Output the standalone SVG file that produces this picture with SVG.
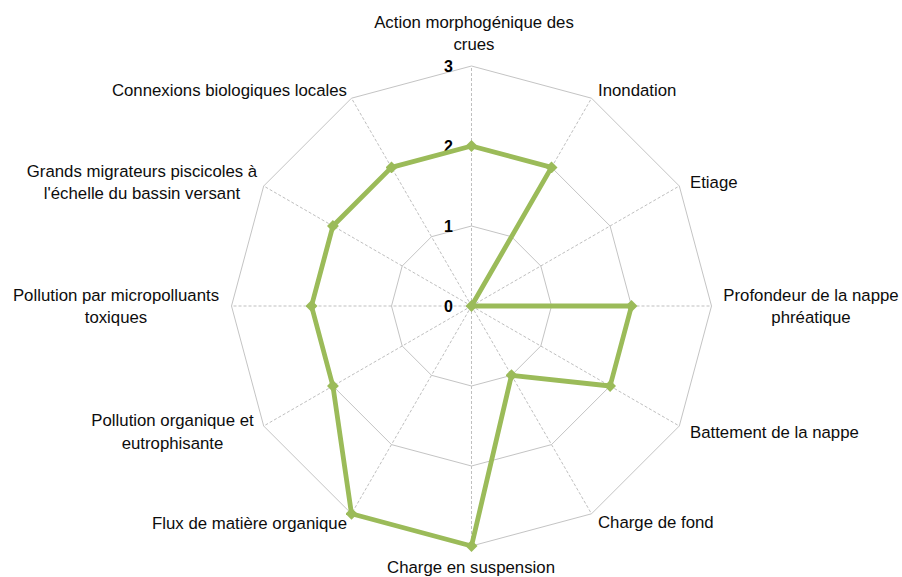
<svg xmlns="http://www.w3.org/2000/svg" width="902" height="577" viewBox="0 0 902 577">
<defs>
<style>
.ring{fill:none;stroke:#c4c4c4;stroke-width:1}
.spoke{stroke:#bfbfbf;stroke-width:1;stroke-dasharray:3 2}
.lbl{font-family:"Liberation Sans",Arial,sans-serif;font-size:16.8px;fill:#0d0d0d}
.num{font-family:"Liberation Sans",Arial,sans-serif;font-size:16px;font-weight:bold;fill:#000;text-anchor:end}
.mid{text-anchor:middle}
.end{text-anchor:end}
.series{fill:none;stroke:#9bbb59;stroke-width:4.8;stroke-linejoin:round}
</style>
<marker id="dia" viewBox="-6 -6 12 12" markerWidth="12" markerHeight="12" markerUnits="userSpaceOnUse" refX="0" refY="0" orient="0">
<path d="M0,-6 L6,0 L0,6 L-6,0 Z" fill="#9bbb59"/>
</marker>
</defs>
<rect width="902" height="577" fill="#fff"/>
<g id="connectors">
<g id="spokes">
<line class="spoke" x1="471.5" y1="306" x2="471.5" y2="66"/>
<line class="spoke" x1="471.5" y1="306" x2="591.5" y2="98.2"/>
<line class="spoke" x1="471.5" y1="306" x2="679.3" y2="186"/>
<line class="spoke" x1="471.5" y1="306" x2="711.5" y2="306"/>
<line class="spoke" x1="471.5" y1="306" x2="679.3" y2="426"/>
<line class="spoke" x1="471.5" y1="306" x2="591.5" y2="513.8"/>
<line class="spoke" x1="471.5" y1="306" x2="471.5" y2="546"/>
<line class="spoke" x1="471.5" y1="306" x2="351.5" y2="513.8"/>
<line class="spoke" x1="471.5" y1="306" x2="263.7" y2="426"/>
<line class="spoke" x1="471.5" y1="306" x2="231.5" y2="306"/>
<line class="spoke" x1="471.5" y1="306" x2="263.7" y2="186"/>
<line class="spoke" x1="471.5" y1="306" x2="351.5" y2="98.2"/>
</g>
<g id="rings">
<polygon class="ring" points="471.5,226 511.5,236.7 540.8,266 551.5,306 540.8,346 511.5,375.3 471.5,386 431.5,375.3 402.2,346 391.5,306 402.2,266 431.5,236.7"/>
<polygon class="ring" points="471.5,146 551.5,167.4 610.1,226 631.5,306 610.1,386 551.5,444.6 471.5,466 391.5,444.6 332.9,386 311.5,306 332.9,226 391.5,167.4"/>
<polygon class="ring" points="471.5,66 591.5,98.2 679.3,186 711.5,306 679.3,426 591.5,513.8 471.5,546 351.5,513.8 263.7,426 231.5,306 263.7,186 351.5,98.2"/>
</g>
</g>
<g id="axis-values">
<text class="num" x="453" y="312">0</text>
<text class="num" x="453" y="232">1</text>
<text class="num" x="453" y="152">2</text>
<text class="num" x="453" y="72">3</text>
</g>
<g id="series">
<path class="series" d="M471.5,146 L551.5,167.4 L471.5,306 L631.5,306 L610.1,386 L511.5,375.3 L471.5,546 L351.5,513.8 L332.9,386 L311.5,306 L332.9,226 L391.5,167.4 Z" marker-start="url(#dia)" marker-mid="url(#dia)"/>
</g>
<g id="label-action"><text class="lbl mid" x="474" y="28">Action morphogénique des</text><text class="lbl mid" x="474" y="50">crues</text></g>
<g id="label-inondation"><text class="lbl" x="598" y="96">Inondation</text></g>
<g id="label-etiage"><text class="lbl" x="690" y="188">Etiage</text></g>
<g id="label-profondeur"><text class="lbl mid" x="811" y="301">Profondeur de la nappe</text><text class="lbl mid" x="811" y="323">phréatique</text></g>
<g id="label-battement"><text class="lbl" x="690" y="438">Battement de la nappe</text></g>
<g id="label-charge-fond"><text class="lbl" x="598" y="528">Charge de fond</text></g>
<g id="label-charge-suspension"><text class="lbl mid" x="471" y="572.5">Charge en suspension</text></g>
<g id="label-flux"><text class="lbl end" x="347" y="529">Flux de matière organique</text></g>
<g id="label-pollution-organique"><text class="lbl mid" x="172.5" y="426">Pollution organique et</text><text class="lbl mid" x="172.5" y="449">eutrophisante</text></g>
<g id="label-micropolluants"><text class="lbl mid" x="116" y="301">Pollution par micropolluants</text><text class="lbl mid" x="116" y="323">toxiques</text></g>
<g id="label-migrateurs"><text class="lbl mid" x="142" y="177">Grands migrateurs piscicoles à</text><text class="lbl mid" x="142" y="199">l'échelle du bassin versant</text></g>
<g id="label-connexions"><text class="lbl end" x="347" y="96">Connexions biologiques locales</text></g>
</svg>
